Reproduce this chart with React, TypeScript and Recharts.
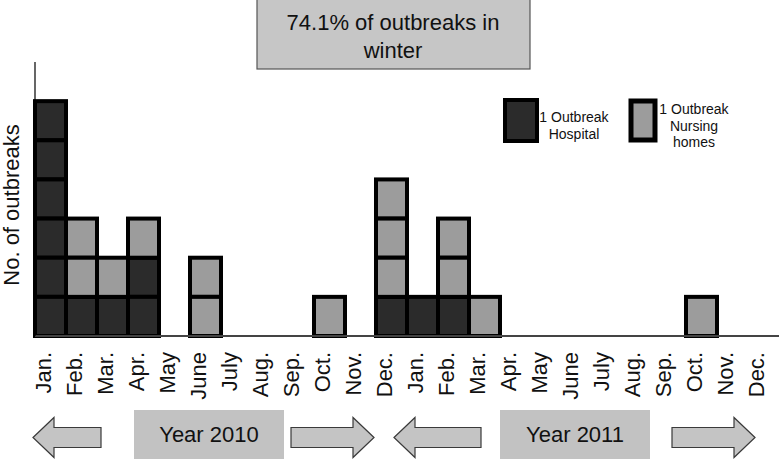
import React from 'react';
import { BarChart, Bar, XAxis, YAxis } from 'recharts';

const monthKeys = [
  'Jan-2010', 'Feb-2010', 'Mar-2010', 'Apr-2010', 'May-2010', 'Jun-2010',
  'Jul-2010', 'Aug-2010', 'Sep-2010', 'Oct-2010', 'Nov-2010', 'Dec-2010',
  'Jan-2011', 'Feb-2011', 'Mar-2011', 'Apr-2011', 'May-2011', 'Jun-2011',
  'Jul-2011', 'Aug-2011', 'Sep-2011', 'Oct-2011', 'Nov-2011', 'Dec-2011',
];
const monthLabels = [
  'Jan.', 'Feb.', 'Mar.', 'Apr.', 'May', 'June', 'July', 'Aug.', 'Sep.', 'Oct.', 'Nov.', 'Dec.',
  'Jan.', 'Feb.', 'Mar.', 'Apr.', 'May', 'June', 'July', 'Aug.', 'Sep.', 'Oct.', 'Nov.', 'Dec.',
];
const hospital = [6, 1, 1, 2, 0, 0, 0, 0, 0, 0, 0, 1, 1, 1, 0, 0, 0, 0, 0, 0, 0, 0, 0, 0];
const nursing = [0, 2, 1, 1, 0, 2, 0, 0, 0, 1, 0, 3, 0, 2, 1, 0, 0, 0, 0, 0, 0, 1, 0, 0];

const data = monthKeys.map((k, i) => ({ key: k, label: monthLabels[i], hospital: hospital[i], nursing: nursing[i] }));

const FONT = "'Liberation Sans', Arial, Helvetica, sans-serif";
const DARK = '#2b2b2b';
const GRAY = '#9c9c9c';

function UnitBoxes(props: any) {
  const { x, y, width, height, fill, count } = props;
  if (!count || !height) return null;
  const h = height / count;
  const boxes = [];
  for (let i = 0; i < count; i++) {
    boxes.push(
      <rect key={i} x={x} y={y + i * h} width={width} height={h} fill={fill} stroke="#000" strokeWidth={4} />
    );
  }
  return <g>{boxes}</g>;
}

function MonthTick(props: any) {
  const { x, payload, index } = props;
  const label = monthLabels[index] ?? payload.value;
  const ty = 352;
  return (
    <text x={x} y={ty} dy={0.5} transform={`rotate(-90, ${x}, ${ty})`} textAnchor="end" fontSize={22} fontFamily={FONT} fill="#111">
      {label}
    </text>
  );
}

function Arrow({ x1, x2, dir }: { x1: number; x2: number; dir: 'left' | 'right' }) {
  const yc = 437.5;
  const sh = 10;
  const hh = 20;
  const headLen = 21;
  let pts: number[][];
  if (dir === 'left') {
    const hx = x1 + headLen;
    pts = [[x1, yc], [hx, yc - hh], [hx, yc - sh], [x2, yc - sh], [x2, yc + sh], [hx, yc + sh], [hx, yc + hh]];
  } else {
    const hx = x2 - headLen;
    pts = [[x2, yc], [hx, yc - hh], [hx, yc - sh], [x1, yc - sh], [x1, yc + sh], [hx, yc + sh], [hx, yc + hh]];
  }
  return <polygon points={pts.map((p) => p.join(',')).join(' ')} fill="#c4c4c4" stroke="#3a3a3a" strokeWidth={1.2} />;
}

export default function App() {
  return (
    <div style={{ position: 'absolute', left: 0, top: 0, width: 783, height: 461, background: '#fff', overflow: 'hidden' }}>
      <BarChart
        width={783}
        height={461}
        data={data}
        margin={{ top: 62, right: 4, left: 0, bottom: 0 }}
        barCategoryGap={0}
        barGap={0}
      >
        <XAxis
          dataKey="key"
          interval={0}
          tickLine={false}
          axisLine={{ stroke: '#444', strokeWidth: 2 }}
          height={125}
          tick={<MonthTick />}
        />
        <YAxis
          width={35}
          domain={[0, 7]}
          tick={false}
          tickLine={false}
          axisLine={{ stroke: '#000', strokeWidth: 1.2 }}
        />
        <Bar
          dataKey="hospital"
          stackId="a"
          fill={DARK}
          isAnimationActive={false}
          shape={(p: any) => <UnitBoxes {...p} count={p.payload.hospital} />}
        />
        <Bar
          dataKey="nursing"
          stackId="a"
          fill={GRAY}
          isAnimationActive={false}
          shape={(p: any) => <UnitBoxes {...p} count={p.payload.nursing} />}
        />
      </BarChart>
      <svg width={783} height={461} style={{ position: 'absolute', left: 0, top: 0, pointerEvents: 'none' }}>
        {/* y label */}
        <text x={19} y={205} transform="rotate(-90, 19, 205)" textAnchor="middle" fontSize={22} fontFamily={FONT} fill="#111">
          No. of outbreaks
        </text>
        {/* title box */}
        <rect x={257} y={-1} width={273} height={70} fill="#c6c6c6" stroke="#555" strokeWidth={1.2} />
        <text x={393} y={30} textAnchor="middle" fontSize={22} fontFamily={FONT} fill="#111">74.1% of outbreaks in</text>
        <text x={393} y={58} textAnchor="middle" fontSize={22} fontFamily={FONT} fill="#111">winter</text>
        {/* legend */}
        <rect x={505} y={100} width={32} height={41} fill={DARK} stroke="#000" strokeWidth={4} />
        <text x={574} y={122} textAnchor="middle" fontSize={14} fontFamily={FONT} fill="#111">1 Outbreak</text>
        <text x={574} y={139} textAnchor="middle" fontSize={14} fontFamily={FONT} fill="#111">Hospital</text>
        <rect x={631} y={101} width={24} height={39} fill={GRAY} stroke="#000" strokeWidth={5} />
        <text x={694} y={114} textAnchor="middle" fontSize={14} fontFamily={FONT} fill="#111">1 Outbreak</text>
        <text x={694} y={131} textAnchor="middle" fontSize={14} fontFamily={FONT} fill="#111">Nursing</text>
        <text x={694} y={147} textAnchor="middle" fontSize={14} fontFamily={FONT} fill="#111">homes</text>
        {/* bottom year bands */}
        <Arrow x1={33} x2={101} dir="left" />
        <rect x={134} y={410} width={150} height={49} fill="#c2c2c2" />
        <text x={209} y={442} textAnchor="middle" fontSize={22} fontFamily={FONT} fill="#111">Year 2010</text>
        <Arrow x1={291} x2={374} dir="right" />
        <Arrow x1={394} x2={481} dir="left" />
        <rect x={500} y={410} width={150} height={49} fill="#c2c2c2" />
        <text x={575} y={442} textAnchor="middle" fontSize={22} fontFamily={FONT} fill="#111">Year 2011</text>
        <Arrow x1={672} x2={755} dir="right" />
      </svg>
    </div>
  );
}
